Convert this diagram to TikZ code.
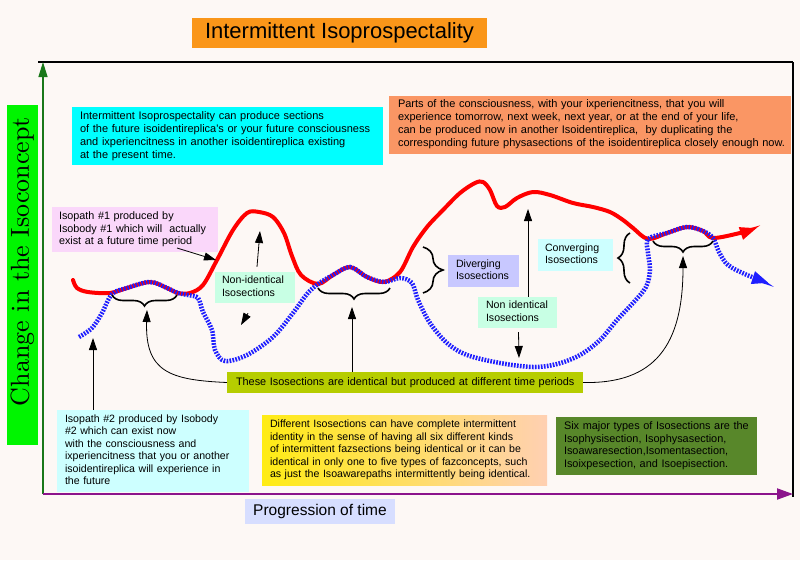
\documentclass[tikz,border=0pt]{standalone}
\usepackage{fontspec}
\newfontfamily\arial{Liberation Sans}
\newfontfamily\lmten{lmroman10-regular.otf}
\usetikzlibrary{arrows.meta,decorations.pathreplacing,calc}
\newcommand\lns[1]{\begin{tabular}{@{}l@{}}#1\end{tabular}}
\definecolor{bgc}{RGB}{253,248,245}
\definecolor{titlec}{RGB}{250,150,25}
\definecolor{cyanc}{RGB}{0,255,255}
\definecolor{salmonc}{RGB}{250,150,100}
\definecolor{pinkc}{RGB}{250,215,250}
\definecolor{mintc}{RGB}{200,255,228}
\definecolor{lavc}{RGB}{200,200,255}
\definecolor{lcyanc}{RGB}{205,255,255}
\definecolor{olivec}{RGB}{182,205,0}
\definecolor{sixc}{RGB}{88,135,42}
\definecolor{progc}{RGB}{215,222,255}
\definecolor{glabc}{RGB}{0,245,0}
\definecolor{gaxc}{RGB}{25,120,25}
\definecolor{paxc}{RGB}{140,20,140}
\definecolor{yelc}{RGB}{255,236,20}
\definecolor{peachc}{RGB}{255,208,178}
\definecolor{redc}{RGB}{255,0,0}
\definecolor{bluec}{RGB}{30,30,255}
\begin{document}
\begin{tikzpicture}[x=1pt,y=-1pt,
  txt/.style={font=\arial\fontsize{10.6}{12.6}\selectfont, align=left, inner sep=0pt},
  blk/.style={black, line width=0.8pt, -{Triangle[length=12pt,width=8pt]}},
  brc/.style={decorate, decoration={brace, amplitude=#1}, line width=1.6pt},
  brc/.default=11pt,
  redpath/.style={redc, line width=4pt, line cap=round},
  bluepath/.style={bluec, line width=4.5pt, dash pattern=on 1.7pt off 1.3pt}
]
\fill[bgc] (0,0) rectangle (800,560);
\useasboundingbox (0,0) rectangle (800,560);

% title
\node[fill=titlec, minimum width=295pt, minimum height=30pt, inner sep=0pt,
      font=\arial\fontsize{22}{26}\selectfont] (title) at (339.5,33) {Intermittent Isoprospectality};

% frame and axes
\coordinate (orig) at (43,494);
\coordinate (ytop) at (43,62);
\coordinate (xend) at (793,494);
\coordinate (tl) at (38,62);
\coordinate (tr) at (793,62);
\coordinate (br) at (793,497);
\draw[black, line width=2pt] (tl) -- (tr);
\draw[black, line width=1.5pt] (tr) -- (br);
\draw[gaxc, line width=1.3pt, -{Triangle[length=15pt,width=9pt]}] (orig) -- (ytop);
\draw[paxc, line width=2pt, -{Triangle[length=16pt,width=11pt]}] (orig) -- (xend);

% y label
\node[fill=glabc, rotate=90, minimum width=340pt, minimum height=31pt, inner sep=0pt,
      font=\lmten\fontsize{26}{30}\selectfont] (ylab) at (22.5,275) {\hspace*{27pt}Change in the Isoconcept};

% x label
\node[fill=progc, minimum width=150pt, minimum height=25pt, inner sep=0pt,
      font=\arial\fontsize{15.5}{18}\selectfont] (xlab) at (320,511.5) {Progression of time};

% upper boxes
\node[txt, fill=cyanc, minimum width=311pt, minimum height=58pt, text width=295pt,
      font=\arial\fontsize{11}{13}\selectfont] (cyanbox) at (227.5,136)
 {\lns{Intermittent Isoprospectality can produce sections\\
  of the future isoidentireplica's or your future consciousness\\
  and ixperiencitness in another isoidentireplica existing\\
  at the present time.}};
\node[txt, fill=salmonc, minimum width=402pt, minimum height=58pt, text width=384pt,
      font=\arial\fontsize{11}{13}\selectfont] (salmonbox) at (590,124.5)
 {\lns{Parts of the consciousness, with your ixperiencitness, that you will\\
  experience tomorrow, next week, next year, or at the end of your life,\\
  can be produced now in another Isoidentireplica,\ \ by duplicating the\\
  corresponding future physasections of the isoidentireplica closely enough now.}};

\node[txt, fill=pinkc, minimum width=166pt, minimum height=45pt, text width=152pt,
      font=\arial\fontsize{10.8}{12.7}\selectfont] (pink) at (135,229.5)
 {\lns{Isopath \#1 produced by\\ Isobody \#1 which will\ \ actually\\ exist at a future time period}};

\node[txt, fill=mintc, minimum width=80pt, minimum height=31pt, text width=66pt] (ni1) at (255,287.5)
 {\lns{Non-identical\\ Isosections}};
\node[txt, fill=mintc, minimum width=79pt, minimum height=31pt, text width=63pt] (ni2) at (517.5,312.5)
 {\lns{Non identical\\ Isosections}};
\node[txt, fill=lavc, minimum width=71pt, minimum height=32pt, text width=55pt] (div) at (483.5,271)
 {\lns{Diverging\\ Isosections}};
\node[txt, fill=lcyanc, minimum width=75pt, minimum height=32pt, text width=61pt] (conv) at (575.5,255)
 {\lns{Converging\\ Isosections}};

\node[txt, fill=olivec, minimum width=356pt, minimum height=21pt, text width=338pt,
      font=\arial\fontsize{10.9}{13}\selectfont] (olive) at (405,382.5)
 {\lns{These Isosections are identical but produced at different time periods}};

% lower boxes
\node[txt, fill=lcyanc, minimum width=192pt, minimum height=82pt, text width=176pt,
      font=\arial\fontsize{10.6}{12.4}\selectfont] (isop2) at (153,451)
 {\lns{Isopath \#2 produced by Isobody\\ \#2 which can exist now\\ with the consciousness and\\
  ixperiencitness that you or another\\ isoidentireplica will experience in\\ the future}};
\node[txt, left color=yelc, right color=peachc, minimum width=285pt, minimum height=70pt, text width=269pt,
      font=\arial\fontsize{10.6}{12.5}\selectfont] (diff) at (404.5,450)
 {\lns{Different Isosections can have complete intermittent\\
  identity in the sense of having all six different kinds\\
  of intermittent fazsections being identical or it can be\\
  identical in only one to five types of fazconcepts, such\\
  as just the Isoawarepaths intermittently being identical.}};
\node[txt, fill=sixc, minimum width=201pt, minimum height=58pt, text width=185pt,
      font=\arial\fontsize{10.9}{12.4}\selectfont] (six) at (656.5,446)
 {\lns{Six major types of Isosections are the\\ Isophysisection, Isophysasection,\\
  Isoawaresection,Isomentasection,\\ Isoixpesection, and Isoepisection.}};

% curves
\draw[redpath, -{Triangle[length=17pt,width=12pt]}] plot[smooth, tension=0.55] coordinates {
 (73,280) (77,288) (88,292) (110,293) (127,288) (150,282) (167,288) (178,293) (190,293)
 (203,285) (217,260) (233,230) (247,213) (259,212) (273,217) (284,233) (292,256) (301,275)
 (318,284) (333,275) (350,267) (367,277) (384,282) (400,272) (413,247) (427,227) (443,210)
 (460,193) (475,183) (483,182) (490,190) (497,206) (505,207) (517,198) (533,192) (550,195)
 (573,203) (593,207) (610,212) (623,220) (633,228) (648,239) (667,233) (687,227) (703,231)
 (713,238) (740,233) (757,228)};
\draw[bluepath, -{Triangle[length=17pt,width=12pt]}] plot[smooth, tension=0.55] coordinates {
 (79,337) (92,328) (102,313) (112,294) (127,288) (150,282) (167,288) (178,293) (188,295)
 (198,298) (203,312) (212,330) (215,350) (225,361) (247,355) (273,337) (293,313) (307,294)
 (318,284) (333,275) (350,267) (367,277) (384,282) (400,278) (412,283) (418,300) (430,323)
 (447,343) (467,355) (500,363) (533,367) (557,364) (580,355) (600,340) (617,320) (633,303)
 (646,287) (650,270) (648,253) (648,239) (667,233) (687,227) (703,231) (713,238) (719,252)
 (728,265) (747,275) (769,283)};

% braces
\coordinate (b1r) at (177,295); \coordinate (b1l) at (112,295);
\coordinate (b2r) at (390,288); \coordinate (b2l) at (318,288);
\coordinate (b3t) at (423,247); \coordinate (b3b) at (423,293);
\coordinate (b4b) at (630,283); \coordinate (b4t) at (630,233);
\coordinate (b5r) at (713,241); \coordinate (b5l) at (653,241);
\draw[brc] (b1r) -- (b1l);
\draw[brc] (b2r) -- (b2l);
\draw[brc=20pt] (b3t) -- (b3b);
\draw[brc=12pt] (b4b) -- (b4t);
\draw[brc] (b5r) -- (b5l);

% arrow targets
\coordinate (b1tip) at (147,310);
\coordinate (b2tip) at (352,307);
\coordinate (b5tip) at (683,256);
\coordinate (bluestart) at (93,338);
\coordinate (redhit) at (216,260);
\coordinate (pinkout) at (177,248);
\coordinate (redpeak) at (260,231);
\coordinate (ni1dn) at (241,325);
\coordinate (redtop2) at (528,209);
\coordinate (bluelow) at (519,358);

% arrows
\draw[blk] (isop2.north -| bluestart) -- (bluestart);
\draw[blk] (pinkout) -- (redhit);
\draw[blk] ($(ni1.north)+(2,-5)$) -- (redpeak);
\draw[blk] ($(ni1.south)+(-7,10)$) -- (ni1dn);
\draw[blk] (ni2.north -| redtop2) -- (redtop2);
\draw[blk] ($(ni2.south)+(1,4)$) -- (bluelow);
\draw[blk] (olive.west) .. controls (170,380) and (145,372) .. (b1tip);
\draw[blk] (olive.north -| b2tip) -- (b2tip);
\draw[blk] (olive.east) .. controls (655,384) and (683,345) .. (b5tip);
\end{tikzpicture}
\end{document}
